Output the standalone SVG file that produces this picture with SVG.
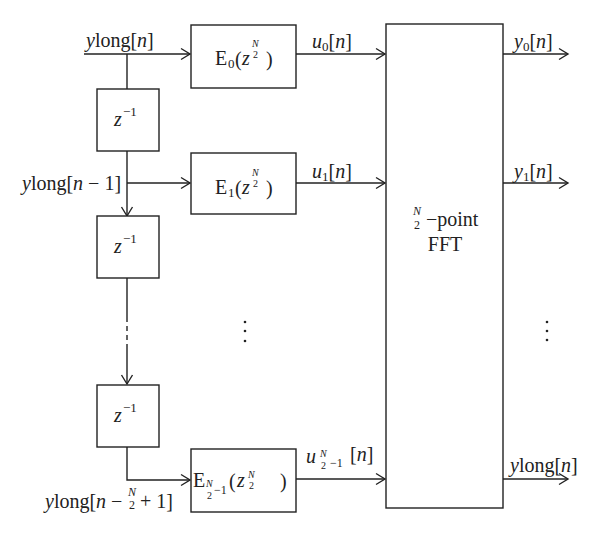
<svg xmlns="http://www.w3.org/2000/svg" width="600" height="537" viewBox="0 0 600 537">
<defs>
<style>
.box{fill:#fff;stroke:#222;stroke-width:1.4}
.ln{fill:none;stroke:#222;stroke-width:1.4}
.t{font-family:"Liberation Serif","DejaVu Serif",serif;font-size:20px;fill:#222}
.i{font-style:italic}
.s{font-size:13px}
.s12{font-size:12px}
.ss{font-size:10px}
.dot{fill:#222}
</style>
<marker id="ah" markerUnits="userSpaceOnUse" orient="auto" overflow="visible" markerWidth="12" markerHeight="12">
<path d="M-9,-5.5 L0,0 L-9,5.5" fill="none" stroke="#222" stroke-width="1.4"/>
</marker>
</defs>
<rect width="600" height="537" fill="#fff"/>

<g id="connectors">
<line class="ln" x1="84" y1="54" x2="190" y2="54" marker-end="url(#ah)"/>
<line class="ln" x1="127" y1="54" x2="127" y2="89"/>
<line class="ln" x1="127" y1="151" x2="127" y2="216" marker-end="url(#ah)"/>
<line class="ln" x1="127" y1="183" x2="190" y2="183" marker-end="url(#ah)"/>
<line class="ln" x1="127" y1="278" x2="127" y2="317"/>
<line class="ln" x1="127" y1="317" x2="127" y2="347" stroke-dasharray="5,4"/>
<line class="ln" x1="127" y1="347" x2="127" y2="384" marker-end="url(#ah)"/>
<polyline class="ln" points="127,447 127,480 190,480" marker-end="url(#ah)"/>
<line class="ln" x1="296" y1="54" x2="385" y2="54" marker-end="url(#ah)"/>
<line class="ln" x1="296" y1="183" x2="385" y2="183" marker-end="url(#ah)"/>
<line class="ln" x1="296" y1="479" x2="385" y2="479" marker-end="url(#ah)"/>
<line class="ln" x1="503" y1="54" x2="568" y2="54" marker-end="url(#ah)"/>
<line class="ln" x1="503" y1="183" x2="568" y2="183" marker-end="url(#ah)"/>
<line class="ln" x1="503" y1="479" x2="568" y2="479" marker-end="url(#ah)"/>
</g>

<g id="z1">
<rect class="box" x="97" y="89" width="62" height="62"/>
<text class="t"><tspan class="i" x="114" y="126">z</tspan><tspan class="s" x="123" y="116">−1</tspan></text>
</g>
<g id="z2">
<rect class="box" x="97" y="216" width="62" height="62"/>
<text class="t"><tspan class="i" x="114" y="253">z</tspan><tspan class="s" x="123" y="243">−1</tspan></text>
</g>
<g id="z3">
<rect class="box" x="97" y="385" width="62" height="62"/>
<text class="t"><tspan class="i" x="114" y="422">z</tspan><tspan class="s" x="123" y="412">−1</tspan></text>
</g>

<g id="E0">
<rect class="box" x="191" y="25" width="105" height="63"/>
<text class="t"><tspan x="215" y="65">E</tspan><tspan class="s" x="228" y="68">0</tspan><tspan x="235" y="66">(</tspan><tspan class="i" x="242" y="65">z</tspan><tspan class="ss i" x="252" y="47">N</tspan><tspan class="ss" x="253" y="58">2</tspan><tspan x="266" y="66">)</tspan></text>
</g>
<g id="E1">
<rect class="box" x="191" y="153" width="105" height="61"/>
<text class="t"><tspan x="215" y="194">E</tspan><tspan class="s" x="228" y="197">1</tspan><tspan x="235" y="195">(</tspan><tspan class="i" x="242" y="194">z</tspan><tspan class="ss i" x="252" y="176">N</tspan><tspan class="ss" x="253" y="187">2</tspan><tspan x="266" y="195">)</tspan></text>
</g>
<g id="EN">
<rect class="box" x="191" y="449" width="105" height="63"/>
<text class="t"><tspan x="193" y="487">E</tspan><tspan class="ss i" x="206" y="487">N</tspan><tspan class="ss" x="207" y="498.5">2</tspan><tspan class="s12" x="214" y="494">−1</tspan><tspan x="229" y="488">(</tspan><tspan class="i" x="237" y="487">z</tspan><tspan class="ss i" x="248" y="477.5">N</tspan><tspan class="ss" x="249" y="489">2</tspan><tspan x="280" y="488">)</tspan></text>
</g>

<g id="FFT">
<rect class="box" x="386" y="24" width="117" height="484"/>
<text class="t"><tspan class="s12 i" x="413" y="215">N</tspan><tspan class="s12" x="414" y="228.5">2</tspan><tspan x="426" y="226">−point</tspan></text>
<text class="t" x="445" y="251" text-anchor="middle">FFT</text>
</g>

<g id="labels">
<text class="t"><tspan class="i" x="86" y="47">y</tspan><tspan>long[</tspan><tspan class="i">n</tspan><tspan>]</tspan></text>
<text class="t"><tspan class="i" x="22" y="190">y</tspan><tspan>long[</tspan><tspan class="i">n</tspan><tspan> − 1]</tspan></text>
<text class="t"><tspan class="i" x="45" y="508">y</tspan><tspan>long[</tspan><tspan class="i">n</tspan><tspan> −</tspan><tspan class="s12 i" x="128" y="495.5">N</tspan><tspan class="s12" x="129" y="509">2</tspan><tspan x="140" y="508">+ 1]</tspan></text>
<text class="t"><tspan class="i" x="312" y="48">u</tspan><tspan class="s" y="51">0</tspan><tspan y="48">[</tspan><tspan class="i">n</tspan><tspan>]</tspan></text>
<text class="t"><tspan class="i" x="312" y="178">u</tspan><tspan class="s" y="181">1</tspan><tspan y="178">[</tspan><tspan class="i">n</tspan><tspan>]</tspan></text>
<text class="t"><tspan class="i" x="306" y="463">u</tspan><tspan class="ss i" x="320" y="457">N</tspan><tspan class="ss" x="321" y="468.5">2</tspan><tspan class="s12" x="330" y="467">−1</tspan><tspan x="350" y="461">[</tspan><tspan class="i">n</tspan><tspan>]</tspan></text>
<text class="t"><tspan class="i" x="514" y="48">y</tspan><tspan class="s" y="51">0</tspan><tspan y="48">[</tspan><tspan class="i">n</tspan><tspan>]</tspan></text>
<text class="t"><tspan class="i" x="514" y="178">y</tspan><tspan class="s" y="181">1</tspan><tspan y="178">[</tspan><tspan class="i">n</tspan><tspan>]</tspan></text>
<text class="t"><tspan class="i" x="510" y="472">y</tspan><tspan>long[</tspan><tspan class="i">n</tspan><tspan>]</tspan></text>
<circle class="dot" cx="245" cy="322" r="1.3"/>
<circle class="dot" cx="245" cy="331" r="1.3"/>
<circle class="dot" cx="245" cy="341" r="1.3"/>
<circle class="dot" cx="547" cy="322" r="1.3"/>
<circle class="dot" cx="547" cy="331" r="1.3"/>
<circle class="dot" cx="547" cy="340" r="1.3"/>
</g>
</svg>
